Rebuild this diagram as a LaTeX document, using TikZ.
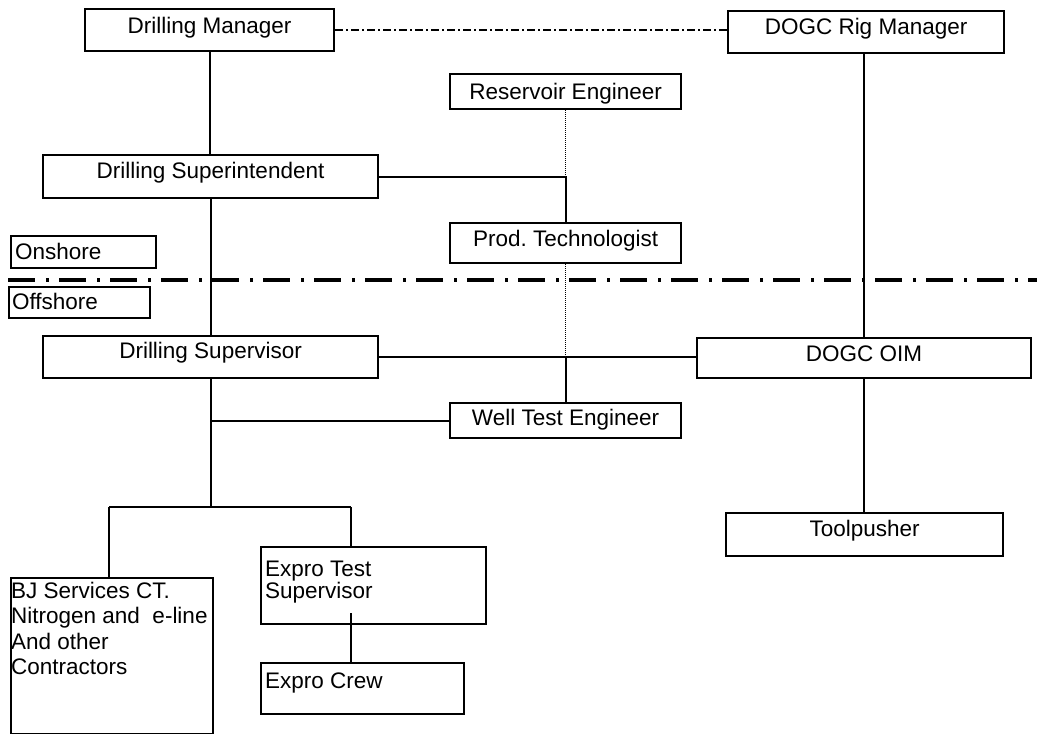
\documentclass[tikz,border=0pt]{standalone}
\usepackage{fontspec}
\setmainfont{Liberation Sans}
\usetikzlibrary{calc}
\lineskiplimit=-100pt
\frenchspacing
\tikzset{
  box/.style={draw, line width=2.1pt, inner sep=0pt, anchor=north west,
    font=\fontsize{22.5}{25}\selectfont},
  txt/.style={inner sep=0pt, align=left, font=\fontsize{22.5}{25.3}\selectfont},
  conn/.style={line width=2.1pt},
  dotconn/.style={line width=1.1pt, dash pattern=on 1pt off 1pt},
  dashconn/.style={line width=1.4pt, dash pattern=on 8pt off 3pt on 2pt off 3pt},
  boundary/.style={line width=4pt, dash pattern=on 27pt off 11pt on 3pt off 10pt},
}
\begin{document}
\begin{tikzpicture}[x=1pt, y=-1pt]
\useasboundingbox[fill=white] (0,0) rectangle (1037,734);

% boxes
\node[box, minimum width=249, text height=24, text depth=18] (dm) at (84,8) {Drilling Manager};
\node[box, minimum width=276, text height=23, text depth=19] (rig) at (727,10) {DOGC Rig Manager};
\node[box, minimum width=231, text height=25, text depth=10] (re) at (449,73) {Reservoir Engineer};
\node[box, minimum width=335, text height=23, text depth=20] (dsi) at (42,154) {Drilling Superintendent};
\node[box, minimum width=231, text height=23, text depth=17] (pt) at (449,222) {Prod. Technologist};
\node[box, minimum width=145, text height=23, text depth=9, text width=137, align=left, inner xsep=4pt] (on) at (10,235) {Onshore};
\node[box, minimum width=141, text height=22, text depth=9, text width=135, align=left, inner xsep=3pt] (off) at (8,286) {Offshore};
\node[box, minimum width=335, text height=22, text depth=20] (ds) at (42,335) {Drilling Supervisor};
\node[box, minimum width=334, text height=23, text depth=17] (oim) at (696,337) {DOGC OIM};
\node[box, minimum width=231, text height=22, text depth=13] (wte) at (449,402) {Well Test Engineer};
\node[box, minimum width=277, text height=23, text depth=20] (tp) at (725,512) {Toolpusher};

\node[box, minimum width=202, minimum height=156] (bj) at (10,577) {};
\node[txt, anchor=north west] (bjt) at (11,582) {BJ Services CT.\\Nitrogen and\ \ e-line\\And other\\Contractors};
\node[box, minimum width=225, minimum height=77] (ets) at (260,546) {};
\node[txt, anchor=north west, font=\fontsize{22.5}{21.5}\selectfont] (etst) at (265,561) {Expro Test\\Supervisor};
\node[box, minimum width=203, minimum height=51] (ec) at (260,662) {};
\node[txt, anchor=base west] (ect) at (265,688) {Expro Crew};

% onshore / offshore boundary
\coordinate (ls) at (8,280);
\coordinate (le) at (1037,280);
\draw[boundary] (ls) -- (le);

% connectors
\draw[dashconn] (dm.east) -- (dm.east -| rig.west);
\draw[conn] (dm.south) -- (dm.south |- dsi.north);
\draw[conn] (dsi.south) -- (dsi.south |- ds.north);
\draw[conn] (dsi.east) -| (pt.north);
\draw[dotconn] (re.south) -- (re.south |- dsi.east);
\draw[dotconn] (pt.south) -- (pt.south |- ds.east);
\draw[conn] (pt.south |- ds.east) -- (wte.north);
\draw[conn] (ds.east) -- (ds.east -| oim.west);
\draw[conn] (ds.south |- wte.west) -- (wte.west);
\draw[conn] (oim.north |- rig.south) -- (oim.north);
\draw[conn] (oim.south) -- (oim.south |- tp.north);

\coordinate (j) at (209.5,507);
\coordinate (jl) at (109,507);
\coordinate (jr) at (351,507);
\draw[conn] (ds.south) -- (ds.south |- j);
\draw[conn] (jl) -- (jr);
\draw[conn] (jl) -- (jl |- bj.north);
\draw[conn] (jr) -- (jr |- ets.north);
\draw[conn] ($(jr |- ets.south)+(0,-12)$) -- (jr |- ec.north);
\end{tikzpicture}
\end{document}
